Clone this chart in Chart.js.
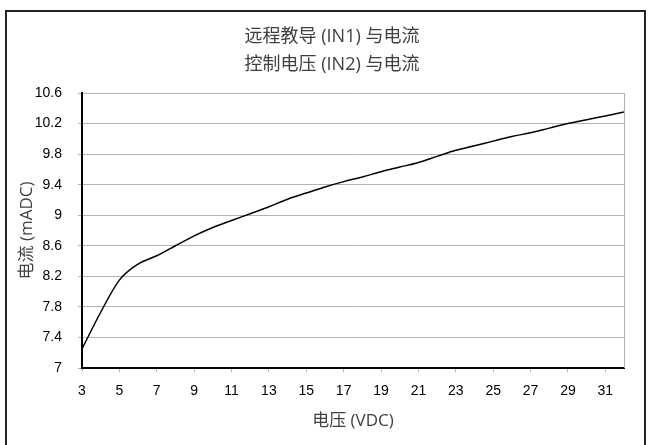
<!DOCTYPE html>
<html>
<head>
<meta charset="utf-8">
<script src="https://cdn.jsdelivr.net/npm/chart.js@4/dist/chart.umd.min.js"></script>
<style>
html,body{margin:0;padding:0;background:#fff}
</style>
</head>
<body>
<canvas id="myChart" width="648" height="445"></canvas>
<script>
// chart texts
var titleLines=["远程教导 (IN1) 与电流","控制电压 (IN2) 与电流"];
var xTitle="电压 (VDC)";
var yTitle="电流 (mADC)";

// data
var voltage=[3,4,5,6,7,8,9,10,11,12,13,14,15,16,17,18,19,20,21,22,23,24,25,26,27,28,29,30,31,32];
var current=[7.25,7.73,8.15,8.36,8.47,8.6,8.73,8.84,8.93,9.02,9.11,9.21,9.29,9.37,9.44,9.5,9.57,9.63,9.69,9.77,9.85,9.91,9.97,10.03,10.08,10.14,10.2,10.25,10.3,10.35];

// tick labels
var xTicks=[3,5,7,9,11,13,15,17,19,21,23,25,27,29,31];
var yTicks=[7,7.4,7.8,8.2,8.6,9,9.4,9.8,10.2,10.6];

var tickFont={family:"'Liberation Sans Narrow','Liberation Sans',Arial,sans-serif",size:14};
var cjkFont={family:"'Open Sans','Noto Sans CJK SC',sans-serif",size:17};

var points=[];
for(var i=0;i<voltage.length;i++){
    points.push({x:voltage[i],y:current[i]});
}

// outer frame, plot right edge and the two title lines
var frame={
    id:'frame',
    afterDraw:function(chart){
        var c=chart.ctx, a=chart.chartArea;
        c.save();
        c.strokeStyle='#222';
        c.lineWidth=2;
        c.beginPath();
        c.moveTo(6,445);c.lineTo(6,11);c.lineTo(645,11);c.lineTo(645,445);
        c.stroke();
        c.strokeStyle='#b3b3b3';
        c.lineWidth=1;
        c.beginPath();
        c.moveTo(Math.round(a.right)+0.5,a.top);
        c.lineTo(Math.round(a.right)+0.5,a.bottom);
        c.stroke();
        c.fillStyle='#404040';
        c.font="18px 'Open Sans','Noto Sans CJK SC',sans-serif";
        c.textAlign='center';
        c.textBaseline='middle';
        c.fillText(titleLines[0],332,37);
        c.fillText(titleLines[1],332,65);
        c.restore();
    }
};

new Chart(document.getElementById('myChart'),{
    type:'line',
    data:{
        datasets:[{
            data:points,
            borderColor:'#000',
            borderWidth:1.5,
            pointRadius:0,
            fill:false,
            cubicInterpolationMode:'monotone'
        }]
    },
    options:{
        responsive:false,
        animation:false,
        devicePixelRatio:1,
        layout:{padding:{left:0,top:93,right:24,bottom:0}},
        plugins:{legend:{display:false},tooltip:{enabled:false}},
        scales:{
            x:{
                type:'linear',
                min:3,
                max:32,
                afterBuildTicks:function(s){s.ticks=xTicks.map(function(v){return {value:v};});},
                afterFit:function(s){s.height=77;},
                ticks:{autoSkip:false,maxRotation:0,padding:11,color:'#000',font:tickFont},
                grid:{drawOnChartArea:false,tickLength:4,color:'#b3b3b3'},
                border:{color:'#000',width:2},
                title:{display:true,text:xTitle,color:'#404040',font:cjkFont,padding:{top:0,bottom:14}}
            },
            y:{
                type:'linear',
                min:7,
                max:10.6,
                afterBuildTicks:function(s){s.ticks=yTicks.map(function(v){return {value:v};});},
                afterFit:function(s){s.width=82;},
                ticks:{padding:16,color:'#000',font:tickFont,callback:function(v){return String(Math.round(v*10)/10);}},
                grid:{tickLength:4,color:'#b3b3b3'},
                border:{color:'#000',width:2},
                title:{display:true,text:yTitle,color:'#404040',font:cjkFont,padding:{top:17,bottom:0}}
            }
        }
    },
    plugins:[frame]
});
</script>
</body>
</html>
